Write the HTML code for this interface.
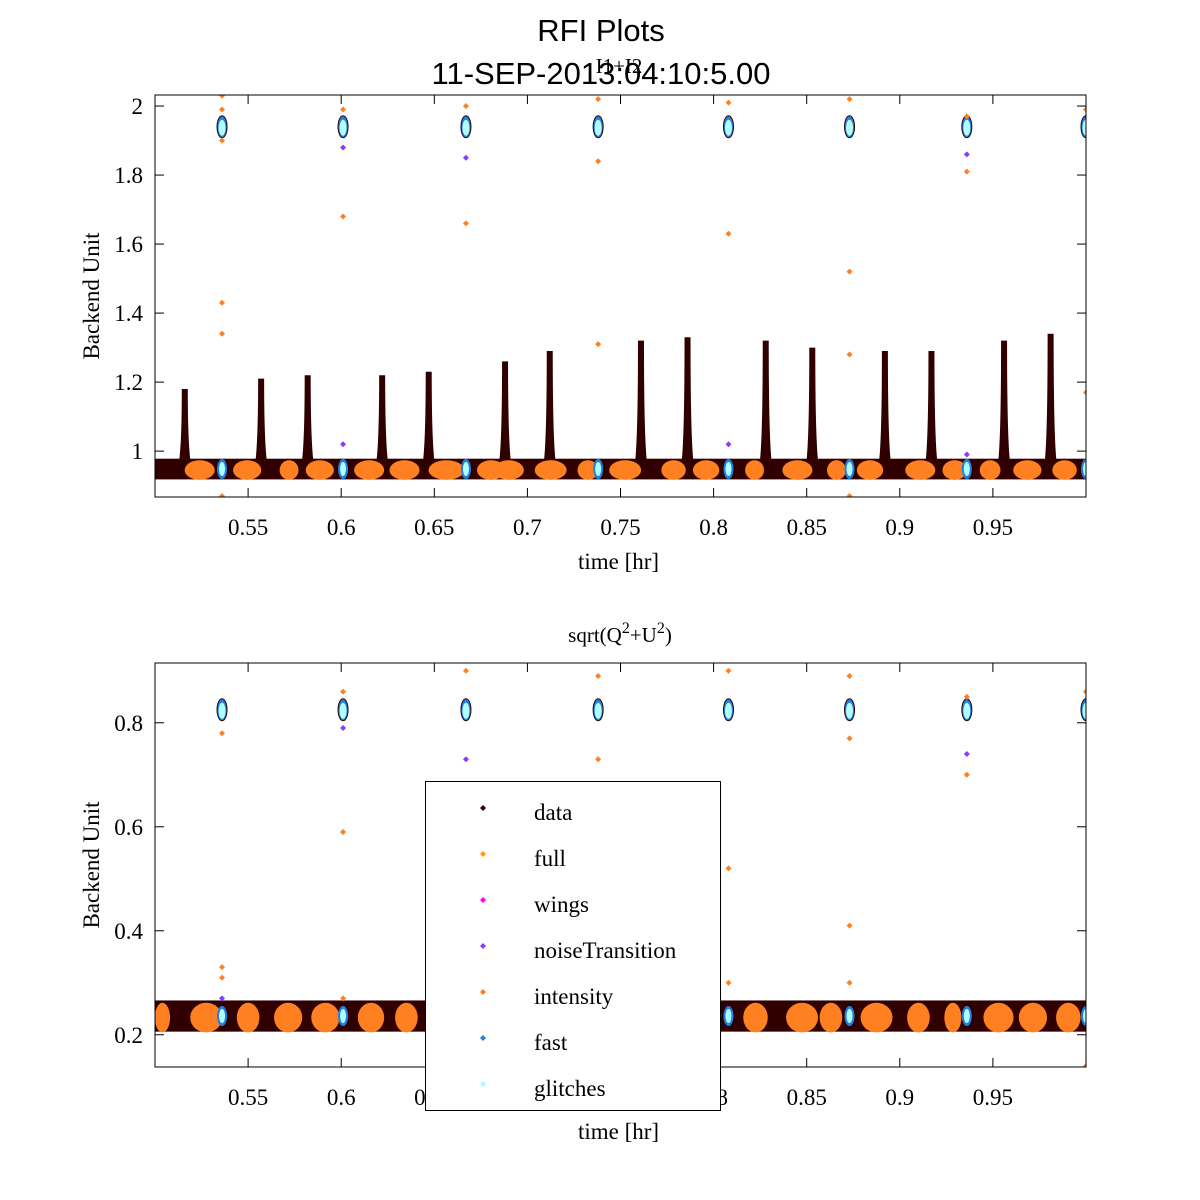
<!DOCTYPE html>
<html><head><meta charset="utf-8"><style>
html,body{margin:0;padding:0;background:#fff}
svg{display:block}
.tk{font-family:"Liberation Serif",serif;font-size:23px;fill:#000}
.lg{font-family:"Liberation Serif",serif;font-size:23px;fill:#000}
</style></head><body>
<svg id="chart" width="1200" height="1200" xmlns="http://www.w3.org/2000/svg">
<rect width="1200" height="1200" fill="#fff"/>
<text x="601" y="41" text-anchor="middle" font-family="Liberation Sans, sans-serif" font-size="31">RFI Plots</text>
<text x="601" y="84" text-anchor="middle" font-family="Liberation Sans, sans-serif" font-size="31">11-SEP-2013:04:10:5.00</text>
<text x="619" y="73" text-anchor="middle" font-family="Liberation Serif, serif" font-size="21">I1+I2</text>
<text x="620" y="642" text-anchor="middle" font-family="Liberation Serif, serif" font-size="21">sqrt(Q<tspan dy="-9" font-size="16">2</tspan><tspan dy="9">+U</tspan><tspan dy="-9" font-size="16">2</tspan><tspan dy="9">)</tspan></text>
<g id="top"></g><g id="bot"></g><g id="legend"></g>
</svg>
<script>
const NS="http://www.w3.org/2000/svg";
// ---- data ----
const xTicks=[0.55,0.6,0.65,0.7,0.75,0.8,0.85,0.9,0.95];
const xTickLabels=["0.55","0.6","0.65","0.7","0.75","0.8","0.85","0.9","0.95"];
const topYTicks=[1,1.2,1.4,1.6,1.8,2];
const topYTickLabels=["1","1.2","1.4","1.6","1.8","2"];
const botYTicks=[0.2,0.4,0.6,0.8];
const botYTickLabels=["0.2","0.4","0.6","0.8"];
const peakTimes=[0.516,0.557,0.582,0.622,0.647,0.688,0.712,0.761,0.786,0.828,0.853,0.892,0.917,0.956,0.981];
const peakHeights=[1.18,1.21,1.22,1.22,1.23,1.26,1.29,1.32,1.33,1.32,1.30,1.29,1.29,1.32,1.34];
const clusterTimes=[0.536,0.601,0.667,0.738,0.808,0.873,0.936,1.0];
const topClusterLevel=1.94, botClusterLevel=0.825;
const topBandCenter=0.948, topBandHalf=0.03;
const botBandCenter=0.236, botBandHalf=0.03;
const topBlobStart=[0.517,0.543,0.568,0.582,0.608,0.627,0.648,0.674,0.683,0.705,0.728,0.745,0.773,0.790,0.818,0.838,0.862,0.878,0.904,0.924,0.944,0.962,0.983];
const topBlobEnd=[0.531,0.556,0.576,0.595,0.622,0.641,0.665,0.687,0.697,0.720,0.737,0.760,0.784,0.802,0.826,0.852,0.870,0.890,0.918,0.935,0.953,0.975,0.994];
const botBlobStart=[0.501,0.520,0.545,0.565,0.585,0.610,0.630,0.650,0.672,0.700,0.712,0.742,0.760,0.780,0.817,0.840,0.858,0.880,0.905,0.925,0.946,0.965,0.985];
const botBlobEnd=[0.507,0.535,0.555,0.578,0.598,0.622,0.640,0.660,0.690,0.708,0.730,0.755,0.772,0.795,0.828,0.855,0.868,0.895,0.915,0.932,0.960,0.978,0.996];
const topOrangeT=[0.536,0.536,0.536,0.536,0.536,0.536,0.601,0.601,0.667,0.667,0.738,0.738,0.738,0.738,0.808,0.808,0.873,0.873,0.873,0.873,0.936,0.936,1.0,1.0];
const topOrangeV=[2.03,1.99,1.90,1.43,1.34,0.87,1.99,1.68,2.0,1.66,2.02,1.84,1.31,0.86,2.01,1.63,2.02,1.52,1.28,0.87,1.97,1.81,1.99,1.17];
const topPurpleT=[0.601,0.601,0.667,0.808,0.936,0.936];
const topPurpleV=[1.88,1.02,1.85,1.02,1.86,0.99];
const botOrangeT=[0.536,0.536,0.536,0.601,0.601,0.601,0.667,0.738,0.738,0.808,0.808,0.808,0.873,0.873,0.873,0.873,0.936,0.936,1.0,1.0];
const botOrangeV=[0.78,0.33,0.31,0.86,0.59,0.27,0.90,0.89,0.73,0.90,0.52,0.30,0.89,0.77,0.41,0.30,0.85,0.70,0.86,0.14];
const botPurpleT=[0.667,0.936,0.601,0.536];
const botPurpleV=[0.73,0.74,0.79,0.27];
const legendLabels=["data","full","wings","noiseTransition","intensity","fast","glitches"];
const legendColors=["#3a0000","#ffa000","#ff00ff","#8040ff","#ff8020","#2080e0","#a0ffff"];

function mk(tag,attrs,parent){const e=document.createElementNS(NS,tag);for(const k in attrs)e.setAttribute(k,attrs[k]);parent.appendChild(e);return e;}
function diamond(g,x,y,c,r){return mk('path',{d:`M${x-r},${y}L${x},${y-r}L${x+r},${y}L${x},${y+r}Z`,fill:c},g);}

function panel(gid,L,T,R,B,ymin,ymax,yt,ytl,o){
  const g=document.getElementById(gid);
  const X=t=>L+(t-0.5)/0.5*(R-L);
  const Y=v=>B-(v-ymin)/(ymax-ymin)*(B-T);
  const clip=mk('clipPath',{id:gid+'c'},g);mk('rect',{x:L,y:T,width:R-L,height:B-T},clip);
  const pg=mk('g',{'clip-path':`url(#${gid}c)`},g);
  let band=mk('rect',{x:L,y:Y(o.bc+o.bh),width:R-L,height:Y(o.bc-o.bh)-Y(o.bc+o.bh),fill:'#300000'},pg);
  
  if(o.peaks){peakTimes.forEach((t,i)=>{
    const p=mk('path',{d:`M${X(t)-7},${Y(o.bc)}Q${X(t)-3},${Y(o.bc+0.05)} ${X(t)-3},${Y(peakHeights[i])}L${X(t)+3},${Y(peakHeights[i])}Q${X(t)+3},${Y(o.bc+0.05)} ${X(t)+7},${Y(o.bc)}Z`,fill:'#300000'},pg);
    
  });}
  o.bs.forEach((s,i)=>{const e=o.be[i];
    const el=mk('ellipse',{cx:X((s+e)/2),cy:Y(o.bc-o.bh*0.1),rx:(X(e)-X(s))/2+2,ry:(Y(o.bc-o.bh*1.05)-Y(o.bc+o.bh*0.85))/2,fill:'#ff8020'},pg);
    
  });
  clusterTimes.forEach(t=>{
    const c1=mk('ellipse',{cx:X(t),cy:Y(o.cl),rx:5,ry:11,fill:'#2080e0',stroke:'#300000','stroke-width':1},pg);
    
    mk('ellipse',{cx:X(t),cy:Y(o.cl)+1,rx:3.5,ry:8,fill:'#b0ffff'},pg);
    const c2=mk('ellipse',{cx:X(t),cy:Y(o.bc),rx:5,ry:10,fill:'#2080e0'},pg);
    
    mk('ellipse',{cx:X(t),cy:Y(o.bc),rx:3,ry:7,fill:'#b0ffff'},pg);
  });
  o.ot.forEach((t,i)=>{const d=diamond(pg,X(t),Y(o.ov[i]),'#ff8020',3);});
  o.pt.forEach((t,i)=>{const d=diamond(pg,X(t),Y(o.pv[i]),'#8040ff',3);});
  const fr=mk('rect',{x:L,y:T,width:R-L,height:B-T,fill:'none',stroke:'#000','stroke-width':1},g);
  
  xTicks.forEach((t,i)=>{const x=X(t);
    mk('line',{x1:x,y1:B,x2:x,y2:B-9,stroke:'#000'},g);mk('line',{x1:x,y1:T,x2:x,y2:T+9,stroke:'#000'},g);
    const tx=mk('text',{x:x,y:B+38,'text-anchor':'middle',class:'tk'},g);tx.textContent=xTickLabels[i];
    
  });
  yt.forEach((v,i)=>{const y=Y(v);
    mk('line',{x1:L,y1:y,x2:L+9,y2:y,stroke:'#000'},g);mk('line',{x1:R,y1:y,x2:R-9,y2:y,stroke:'#000'},g);
    const tx=mk('text',{x:L-12,y:y+8,'text-anchor':'end',class:'tk'},g);tx.textContent=ytl[i];
    
  });
  const xl=mk('text',{x:(L+R)/2-2,y:B+72,'text-anchor':'middle',class:'tk'},g);xl.textContent='time [hr]';
  
  const yl=mk('text',{x:0,y:0,'text-anchor':'middle',class:'tk',transform:`translate(99,${(T+B)/2}) rotate(-90)`},g);yl.textContent='Backend Unit';
  
}
panel('top',155,95,1086,497,0.867,2.032,topYTicks,topYTickLabels,{peaks:true,bc:topBandCenter,bh:topBandHalf,cl:topClusterLevel,bs:topBlobStart,be:topBlobEnd,ot:topOrangeT,ov:topOrangeV,pt:topPurpleT,pv:topPurpleV});
panel('bot',155,663,1086,1067,0.138,0.915,botYTicks,botYTickLabels,{peaks:false,bc:botBandCenter,bh:botBandHalf,cl:botClusterLevel,bs:botBlobStart,be:botBlobEnd,ot:botOrangeT,ov:botOrangeV,pt:botPurpleT,pv:botPurpleV});
const lg=document.getElementById('legend');
const lb=mk('rect',{x:425.5,y:781.5,width:295,height:329,fill:'#fff',stroke:'#000'},lg);

legendLabels.forEach((s,i)=>{const y=808+i*46;
  const m=diamond(lg,483,y,legendColors[i],3);
  
  const t=mk('text',{x:534,y:y+12,class:'lg'},lg);t.textContent=s;
  
});
</script>
</body></html>
